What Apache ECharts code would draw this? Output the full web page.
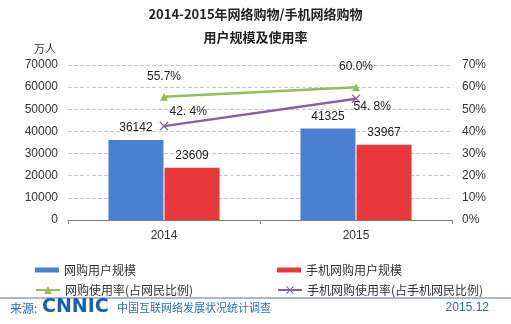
<!DOCTYPE html>
<html><head><meta charset="utf-8">
<script src="https://cdn.jsdelivr.net/npm/echarts@6/dist/echarts.min.js"></script>
<style>html,body{margin:0;padding:0;background:#fff}#c{width:511px;height:324px}</style>
</head><body><div id="c"></div>
<script>
const categories = ['2014', '2015'];
const netUsers = [36142, 41325];
const mobileUsers = [23609, 33967];
const netRate = [55.7, 60.0];
const mobileRate = [42.4, 54.8];
const netRateLabels = ['55.7%', '60.0%'];
const mobileRateLabels = ['42. 4%', '54. 8%'];
const seriesNames = ['网购用户规模', '手机网购用户规模', '网购使用率(占网民比例)', '手机网购使用率(占手机网民比例)'];

const cjk = '"Noto Sans CJK SC", sans-serif';
const num = '"Liberation Sans", Arial, sans-serif';
const xPath = 'path://M0,1L1,0L5,4L9,0L10,1L6,5L10,9L9,10L5,6L1,10L0,9L4,5Z';

const chart = echarts.init(document.getElementById('c'));
const legendCommon = { itemGap: 0, padding: 0, textStyle: { fontFamily: cjk, fontSize: 12, color: '#333' }, selectedMode: false };
chart.setOption({
  animation: false,
  backgroundColor: '#fff',
  title: [
    { text: '2014-2015年网络购物/手机网络购物', left: 'center', top: 3, textStyle: { fontFamily: cjk, fontSize: 13, fontWeight: 'bold', color: '#222' } },
    { text: '用户规模及使用率', left: 'center', top: 26, textStyle: { fontFamily: cjk, fontSize: 13, fontWeight: 'bold', color: '#222' } },
    { text: '万人', left: 29, top: 38, textStyle: { fontFamily: cjk, fontSize: 11, fontWeight: 'normal', color: '#333' } }
  ],
  grid: { left: 68, right: 59, top: 65, bottom: 104 },
  legend: [
    Object.assign({ data: [{ name: seriesNames[0], icon: 'rect' }], left: 35, top: 264, itemWidth: 24, itemHeight: 5 }, legendCommon),
    Object.assign({ data: [{ name: seriesNames[1], icon: 'rect' }], left: 277, top: 264, itemWidth: 24, itemHeight: 5 }, legendCommon),
    Object.assign({ data: [seriesNames[2]], left: 35, top: 284, itemWidth: 24, itemHeight: 10 }, legendCommon),
    Object.assign({ data: [seriesNames[3]], left: 277, top: 284, itemWidth: 24, itemHeight: 10 }, legendCommon)
  ],
  xAxis: {
    type: 'category', data: categories,
    axisLine: { lineStyle: { color: '#7f7f7f' } },
    axisTick: { show: true, alignWithLabel: false, length: 4, lineStyle: { color: '#7f7f7f' } },
    axisLabel: { fontFamily: num, fontSize: 12, color: '#333', margin: 10 }
  },
  yAxis: [
    { type: 'value', min: 0, max: 70000, interval: 10000,
      axisLine: { show: false }, axisTick: { show: false },
      axisLabel: { fontFamily: num, fontSize: 12, color: '#333', margin: 10, formatter: v => String(v) },
      splitLine: { lineStyle: { type: 'dashed', color: '#c8c8c8' } } },
    { type: 'value', min: 0, max: 70, interval: 10,
      axisLine: { show: false }, axisTick: { show: false },
      axisLabel: { fontFamily: num, fontSize: 12, color: '#333', margin: 10, formatter: '{value}%' },
      splitLine: { show: false } }
  ],
  series: [
    { name: seriesNames[0], type: 'bar', data: netUsers, barWidth: 55, barGap: '2%',
      itemStyle: { color: '#4a7fd1' },
      label: { show: true, position: 'top', distance: 6, fontFamily: num, fontSize: 12, color: '#222' } },
    { name: seriesNames[1], type: 'bar', data: mobileUsers, barWidth: 55, barGap: '2%',
      itemStyle: { color: '#e8383b' },
      label: { show: true, position: 'top', distance: 6, fontFamily: num, fontSize: 12, color: '#222' } },
    { name: seriesNames[2], type: 'line', yAxisIndex: 1, data: netRate,
      symbol: 'triangle', symbolSize: 8,
      lineStyle: { color: '#9bbb59', width: 2.5 }, itemStyle: { color: '#9bbb59' },
      label: { show: true, position: 'top', distance: 10, fontFamily: num, fontSize: 12, color: '#222',
        formatter: p => netRateLabels[p.dataIndex] } },
    { name: seriesNames[3], type: 'line', yAxisIndex: 1,
      symbol: xPath, symbolSize: 9,
      lineStyle: { color: '#8064a2', width: 2.5 }, itemStyle: { color: '#8064a2' },
      label: { show: true, fontFamily: num, fontSize: 12, color: '#222',
        formatter: p => mobileRateLabels[p.dataIndex] },
      data: mobileRate.map((v, i) => ({ value: v, label: i === 0 ? { position: [10, -16] } : { position: [2, 7] } })) }
  ],
  graphic: [
    { type: 'line', shape: { x1: 0, y1: 298, x2: 511, y2: 298 }, style: { stroke: '#5a6f8c', lineWidth: 1 } },
    { type: 'text', left: 10, top: 302, style: { text: '来源:', fontFamily: cjk, fontSize: 12, fill: '#2d6fb7' } },
    { type: 'text', left: 42, top: 298, style: { text: 'CNNIC', fontFamily: '"DejaVu Sans", sans-serif', fontSize: 19, fontWeight: 'bold', fill: '#1a5fb4' } },
    { type: 'text', left: 117, top: 302, style: { text: '中国互联网络发展状况统计调查', fontFamily: cjk, fontSize: 11, fill: '#2d6fb7' } },
    { type: 'text', right: 22, top: 302, style: { text: '2015.12', fontFamily: num, fontSize: 12, fill: '#2d6fb7' } }
  ]
});
</script></body></html>
